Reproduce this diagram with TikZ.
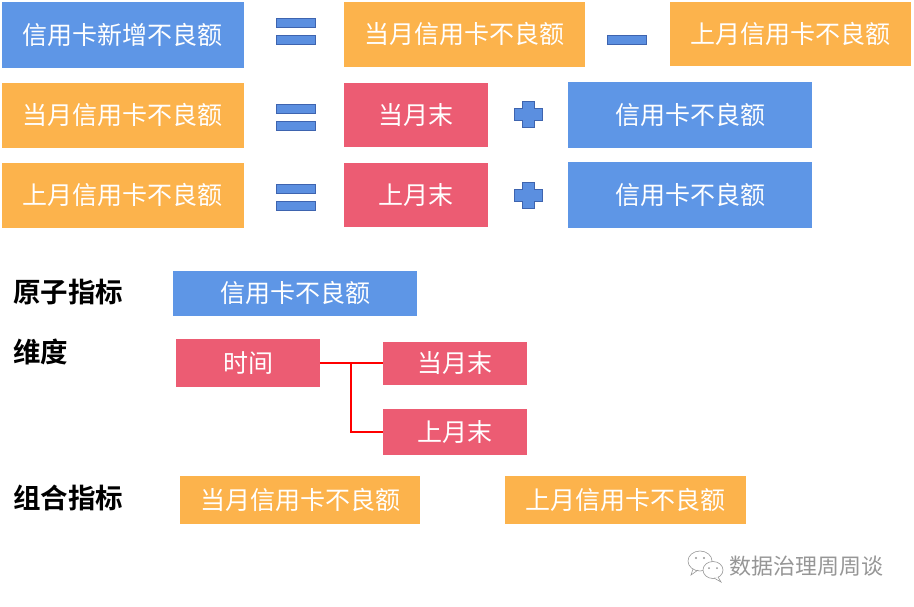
\documentclass[tikz,border=0pt]{standalone}
\usepackage{fontspec}
\newfontfamily\cjk{Noto Sans CJK SC}[BoldFont={Noto Sans CJK SC Bold}]
\definecolor{kpiblue}{RGB}{94,150,230}
\definecolor{kpiorange}{RGB}{252,179,76}
\definecolor{kpired}{RGB}{236,92,115}
\definecolor{iconfill}{RGB}{91,143,224}
\definecolor{iconline}{RGB}{62,100,175}
\definecolor{wmgray}{RGB}{150,150,150}
\tikzset{
  kpibox/.style={inner sep=0pt, text=white, font=\cjk\fontsize{25}{30}\selectfont,
    text height=21pt, text depth=3pt},
  bluebox/.style={kpibox, fill=kpiblue},
  orangebox/.style={kpibox, fill=kpiorange},
  redbox/.style={kpibox, fill=kpired},
  rowlabel/.style={anchor=west, inner sep=0pt, font=\cjk\bfseries\fontsize{27.5}{32}\selectfont},
  icon/.style={fill=iconfill, draw=iconline, line width=0.8pt},
  link/.style={draw=red, line width=1.5pt}
}

\begin{document}
\begin{tikzpicture}[x=1pt,y=-1pt]
  \useasboundingbox (0,0) rectangle (914,606);
  % first formula
  \node[bluebox, minimum width=242pt, minimum height=66pt] (new) at (123,35) {信用卡新增不良额};
  \node[orangebox, minimum width=241pt, minimum height=65pt] (cur1) at (464.5,34.5) {当月信用卡不良额};
  \node[orangebox, minimum width=241pt, minimum height=64pt] (last1) at (790.5,34) {上月信用卡不良额};
  % second and third formula
  \node[orangebox, minimum width=242pt, minimum height=65pt] (cur2) at (123,115.5) {当月信用卡不良额};
  \node[redbox, minimum width=144pt, minimum height=64pt] (curend) at (416,115) {当月末};
  \node[bluebox, minimum width=244pt, minimum height=66pt] (bad2) at (690,115) {信用卡不良额};
  \node[orangebox, minimum width=242pt, minimum height=65pt] (last2) at (123,195.5) {上月信用卡不良额};
  \node[redbox, minimum width=144pt, minimum height=64pt] (lastend) at (416,195) {上月末};
  \node[bluebox, minimum width=244pt, minimum height=66pt] (bad3) at (690,195) {信用卡不良额};
  % operators
  \foreach \y in {18,104,184}{
     \draw[icon] (276,\y) rectangle (315,\y+9);
     \draw[icon] (276,\y+17) rectangle (315,\y+26);
  }
  \draw[icon] (607,35) rectangle (646,44);
  \foreach \y in {114.5,195}{
     \draw[icon] (522,\y-13) -- (534,\y-13) -- (534,\y-6) -- (542,\y-6) -- (542,\y+6)
       -- (534,\y+6) -- (534,\y+13) -- (522,\y+13) -- (522,\y+6) -- (514,\y+6)
       -- (514,\y-6) -- (522,\y-6) -- cycle;
  }
  % atom, dimension, combination
  \node[rowlabel] (atomlab) at (13,292) {原子指标};
  \node[rowlabel] (dimlab) at (13,352) {维度};
  \node[rowlabel] (combolab) at (13,498) {组合指标};
  \node[bluebox, minimum width=244pt, minimum height=45pt] (atom) at (295,293.5) {信用卡不良额};
  \node[redbox, minimum width=144pt, minimum height=48pt] (time) at (248,363) {时间};
  \node[redbox, minimum width=144pt, minimum height=43pt] (curm) at (455,363) {当月末};
  \node[redbox, minimum width=144pt, minimum height=46pt] (lastm) at (455,432) {上月末};
  \node[orangebox, minimum width=240pt, minimum height=48pt] (combo1) at (300,500) {当月信用卡不良额};
  \node[orangebox, minimum width=241pt, minimum height=48pt] (combo2) at (625.5,500) {上月信用卡不良额};
  % time tree
  \coordinate (fork) at (351,363);
  \draw[link] (time.east) -- (curm.west);
  \draw[link] (fork) |- (lastm.west);
  % watermark
  \draw[wmgray, line width=0.6pt, fill=white] (700,561) ellipse (12pt and 10pt);
  \draw[wmgray, line width=0.6pt] (693,569) -- (691,575) -- (698,570);
  \fill[wmgray] (696,558) circle (1.1pt) (704,558) circle (1.1pt);
  \draw[wmgray, line width=0.6pt, fill=white] (713,570) ellipse (10pt and 8.5pt);
  \draw[wmgray, line width=0.6pt, fill=white] (718,577) -- (721,582) -- (714,578);
  \fill[wmgray] (709,568) circle (1pt) (717,568) circle (1pt);
  \node[anchor=west, inner sep=0pt, text=wmgray, font=\cjk\fontsize{22}{26}\selectfont] (wm) at (729,566) {数据治理周周谈};
\end{tikzpicture}
\end{document}
